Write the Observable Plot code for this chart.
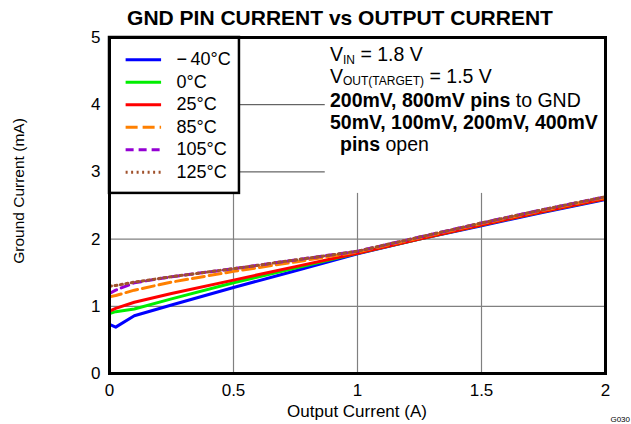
<!DOCTYPE html>
<html><head><meta charset="utf-8">
<script src="https://cdn.jsdelivr.net/npm/d3@7"></script>
<script src="https://cdn.jsdelivr.net/npm/@observablehq/plot@0.6"></script>
<style>
body{margin:0;background:#fff}
svg{font-family:"Liberation Sans",Arial,Helvetica,sans-serif}
</style>
</head><body><div id="chart"></div>
<script>
// Output current (A)
const current = [0, 0.025, 0.1, 0.25, 0.5, 0.75, 1.0, 1.25, 1.5, 1.75, 2.0];
// Ground current (mA) per temperature
const gnd_m40 = [0.73, 0.69, 0.86, 1.02, 1.28, 1.53, 1.78, 2.00, 2.20, 2.40, 2.59];
const gnd_0   = [0.89, 0.92, 0.96, 1.11, 1.35, 1.57, 1.79, 2.00, 2.21, 2.41, 2.60];
const gnd_25  = [0.93, 0.97, 1.06, 1.19, 1.39, 1.59, 1.79, 2.00, 2.21, 2.41, 2.60];
const gnd_85  = [1.14, 1.16, 1.24, 1.36, 1.52, 1.66, 1.81, 2.02, 2.23, 2.43, 2.62];
const gnd_105 = [1.19, 1.24, 1.35, 1.44, 1.56, 1.69, 1.82, 2.03, 2.24, 2.44, 2.63];
const gnd_125 = [1.30, 1.31, 1.36, 1.44, 1.56, 1.69, 1.82, 2.03, 2.24, 2.44, 2.63];
const tempLabels = ["\u2212\u200940\u00b0C", "0\u00b0C", "25\u00b0C", "85\u00b0C", "105\u00b0C", "125\u00b0C"];
const xTicks = [0, 0.5, 1, 1.5, 2];
const yTicks = [0, 1, 2, 3, 4, 5];
const titleText = "GND PIN CURRENT vs OUTPUT CURRENT";
const xLabel = "Output Current (A)";
const yLabel = "Ground Current (mA)";

const seriesValues = [gnd_m40, gnd_0, gnd_25, gnd_85, gnd_105, gnd_125];
const colors = ["#0000ff", "#00ee00", "#ff0000", "#ff8000", "#9400d3", "#a0522d"];
const dashes = [null, null, null, "12,5", "8,5", "2,3.5"];

const series = seriesValues.map((vals, i) => ({
  label: tempLabels[i], color: colors[i], dash: dashes[i],
  rows: current.map((c, j) => ({x: c, y: vals[j]}))
}));

// legend layout (in data units)
const legX1 = 0, legX2 = 0.524, legY1 = 2.68, legY2 = 5;
const legendRows = series.map((s, i) => ({...s, ly: 4.67 - i * 0.335}));

const plot = Plot.plot({
  width: 631, height: 424,
  marginLeft: 109, marginRight: 26, marginTop: 37, marginBottom: 51,
  x: {domain: [0, 2]},
  y: {domain: [0, 5]},
  style: {fontFamily: "'Liberation Sans', Arial, sans-serif", color: "black", background: "white"},
  marks: [
    Plot.ruleX([0.5, 1, 1.5], {y1: 0, y2: legY1, stroke: "#808080", strokeWidth: 1.2}),
    Plot.ruleY([1, 2], {x1: 0, x2: 2, stroke: "#808080", strokeWidth: 1.2}),
    Plot.ruleY([3, 4], {x1: legX2, x2: 0.87, stroke: "#404040", strokeWidth: 1}),
    ...series.map(s => Plot.line(s.rows, {x: "x", y: "y", stroke: s.color, strokeWidth: 3,
        strokeDasharray: s.dash, strokeLinejoin: "round"})),
    Plot.rect([{}], {x1: legX1, x2: legX2, y1: legY1, y2: legY2, fill: "white", stroke: "black", strokeWidth: 2.5}),
    ...legendRows.map(r => Plot.link([r], {x1: 0.065, x2: 0.208, y1: "ly", y2: "ly", stroke: r.color,
        strokeWidth: 3, strokeDasharray: r.dash})),
    Plot.text(legendRows, {x: 0.27, y: "ly", text: "label", textAnchor: "start", fontSize: 18, fill: "black"}),
    Plot.frame({stroke: "black", strokeWidth: 3}),
    Plot.axisX(xTicks, {tickSize: 0, tickPadding: 10, fontSize: 17, tickFormat: d => String(d), label: null}),
    Plot.axisY(yTicks, {tickSize: 0, tickPadding: 9, fontSize: 17, tickFormat: d => String(d), label: null})
  ]
});
document.getElementById("chart").appendChild(plot);

const svg = d3.select(plot);
const xs = plot.scale("x");

// title
svg.append("text").attr("x", 340).attr("y", 25).attr("text-anchor", "middle")
  .attr("font-weight", "bold").attr("font-size", 21).text(titleText);
// axis labels
svg.append("text").attr("x", xs.apply(1)).attr("y", 417).attr("text-anchor", "middle")
  .attr("font-size", 17).text(xLabel);
svg.append("text").attr("transform", `translate(24,${191}) rotate(-90)`).attr("text-anchor", "middle")
  .attr("font-size", 15.5).text(yLabel);
svg.append("text").attr("x", 630).attr("y", 422).attr("text-anchor", "end")
  .attr("font-size", 8).text("G030");

// annotation
const ax = 330, fs = 19.5, sub = 12;
const baselines = [61, 82.5, 107, 129, 151];
const ann = svg.append("g").attr("font-size", fs).attr("fill", "black").attr("text-anchor", "start");
let t = ann.append("text").attr("x", ax).attr("y", baselines[0]);
t.append("tspan").text("V");
t.append("tspan").attr("font-size", sub).attr("dy", 2.5).text("IN");
t.append("tspan").attr("dy", -2.5).text(" = 1.8 V");
t = ann.append("text").attr("x", ax).attr("y", baselines[1]);
t.append("tspan").text("V");
t.append("tspan").attr("font-size", sub).attr("dy", 2.5).text("OUT(TARGET)");
t.append("tspan").attr("dy", -2.5).text(" = 1.5 V");
t = ann.append("text").attr("x", ax).attr("y", baselines[2]);
t.append("tspan").attr("font-weight", "bold").text("200mV, 800mV pins");
t.append("tspan").text(" to GND");
t = ann.append("text").attr("x", ax).attr("y", baselines[3]);
t.append("tspan").attr("font-weight", "bold").text("50mV, 100mV, 200mV, 400mV");
t = ann.append("text").attr("x", ax + 10).attr("y", baselines[4]);
t.append("tspan").attr("font-weight", "bold").text("pins");
t.append("tspan").text(" open");
</script>
</body></html>
